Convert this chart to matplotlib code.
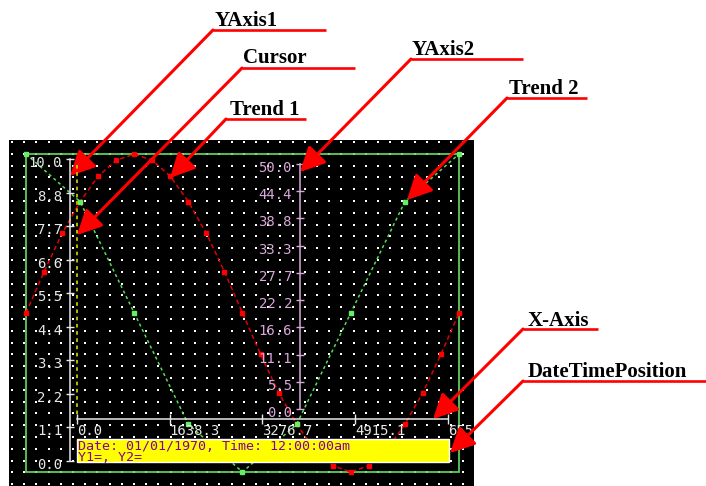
import matplotlib
matplotlib.use('Agg')
import matplotlib.pyplot as plt
import matplotlib.transforms as mtransforms
from matplotlib.patches import Rectangle, FancyArrowPatch
import numpy as np

W, H = 706, 486

# trend values, percent of the plot frame height
trend1_x = list(range(25))
trend1 = [50, 63, 75, 85, 93, 98, 100, 98, 93, 85, 75, 63, 50,
          37, 25, 15, 7, 2, 0, 2, 7, 15, 25, 37, 50]
trend2_x = [0, 3, 6, 9, 12, 15, 18, 21, 24]
trend2 = [100, 85, 50, 15, 0, 15, 50, 85, 100]

# axes
y1_ticks = [0.0, 1.11, 2.22, 3.33, 4.44, 5.56, 6.67, 7.78, 8.89, 10.0]
y1_labels = ['0.0', '1.1', '2.2', '3.3', '4.4', '5.5', '6.6', '7.7', '8.8', '10.0']
y2_ticks = [0.0, 5.56, 11.11, 16.67, 22.22, 27.78, 33.33, 38.89, 44.44, 50.0]
y2_labels = ['0.0', '5.5', '11.1', '16.6', '22.2', '27.7', '33.3', '38.8', '44.4', '50.0']
x_ticks = [0.0, 1638.3, 3276.7, 4915.1, 6553.5]
x_labels = ['0.0', '1638.3', '3276.7', '4915.1', '6553.5']
cursor_x = 0.0
date_text = 'Date: 01/01/1970, Time: 12:00:00am'
value_text = 'Y1=, Y2='

# callouts: label, text pos, underline (x0, x1, y), arrow tip  (pixels)
callouts = [
    ('YAxis1', (215, 26), (213, 326, 30), (70, 176)),
    ('Cursor', (243, 63), (242, 355, 68), (77, 235)),
    ('Trend 1', (230, 115), (226, 306, 119), (170, 178)),
    ('YAxis2', (412, 55), (411, 523, 59), (300, 172)),
    ('Trend 2', (509, 94), (507, 587, 98), (407, 200)),
    ('X-Axis', (528, 326), (523, 598, 329), (433, 419)),
    ('DateTimePosition', (528, 377), (523, 706, 381), (450, 453)),
]

MONO = 'DejaVu Sans Mono'
GREEN = '#66DD66'
LAVENDER = '#D8A8D8'
AXIS_WHITE = '#E8E8E8'


def frac(x0, y0, x1, y1):
    return [x0 / W, 1 - y1 / H, (x1 - x0) / W, (y1 - y0) / H]


def bare_axes(rect, z):
    a = fig.add_axes(rect)
    a.patch.set_alpha(0)
    for s in a.spines.values():
        s.set_visible(False)
    a.set_zorder(z)
    return a


fig = plt.figure(figsize=(W / 100, H / 100), dpi=100, facecolor='white')

# background panel
bg = fig.add_axes([0, 0, 1, 1])
bg.set_xlim(0, W)
bg.set_ylim(H, 0)
bg.axis('off')
bg.set_zorder(0)
bg.add_patch(Rectangle((9, 140), 465, 346, facecolor='black', edgecolor='none'))
gx, gy = np.meshgrid(np.arange(12, 474, 12.2), np.arange(142, 486, 11.8))
bg.scatter(gx.ravel(), gy.ravel(), s=1.0, c='white', marker='s', linewidths=0)
bg.add_patch(Rectangle((26, 154), 433, 318, fill=False, edgecolor=GREEN, lw=1.2))
panel_clip = mtransforms.TransformedBbox(mtransforms.Bbox.from_extents(9, 140, 474, 486), bg.transData)

# trends
ax = fig.add_axes(frac(26, 154, 459, 472))
ax.set_xlim(0, 24)
ax.set_ylim(0, 100)
ax.axis('off')
ax.set_zorder(1)
ax.plot(trend1_x, trend1, color='#E00000', ls=(0, (3, 2)), lw=1.1,
        marker='s', ms=3.5, mfc='#FF0000', mec='#FF0000', clip_on=False)
ax.plot(trend2_x, trend2, color='#55DD55', ls=(0, (2, 2)), lw=1.1,
        marker='s', ms=3.5, mfc='#66EE66', mec='#66EE66', clip_on=False)

# Y axis 1
a1 = bare_axes(frac(70, 159, 71, 461), 2)
a1.set_ylim(0, 10)
a1.set_xticks([])
a1.set_yticks(y1_ticks)
a1.spines['left'].set_visible(True)
a1.spines['left'].set_color(AXIS_WHITE)
a1.spines['left'].set_linewidth(1.1)
a1.tick_params(axis='y', direction='inout', length=6, width=1, color=AXIS_WHITE, labelleft=False)
for v, lab in zip(y1_ticks, y1_labels):
    a1.annotate(lab, xy=(0, v), xycoords=('axes fraction', 'data'), xytext=(-8, -4),
                textcoords='offset pixels', ha='right', va='center',
                color=AXIS_WHITE, family=MONO, fontsize=10)

# Y axis 2
a2 = bare_axes(frac(300, 164, 301, 409), 2)
a2.set_ylim(0, 50)
a2.set_xticks([])
a2.set_yticks(y2_ticks)
a2.spines['left'].set_visible(True)
a2.spines['left'].set_color(LAVENDER)
a2.spines['left'].set_linewidth(1.1)
a2.tick_params(axis='y', direction='inout', length=6, width=1, color=LAVENDER, labelleft=False)
for v, lab in zip(y2_ticks, y2_labels):
    a2.annotate(lab, xy=(0, v), xycoords=('axes fraction', 'data'), xytext=(-8, -4),
                textcoords='offset pixels', ha='right', va='center',
                color=LAVENDER, family=MONO, fontsize=10)

# X axis
ax_x = bare_axes(frac(77, 418, 448, 419), 2)
ax_x.set_xlim(0, 6553.5)
ax_x.set_yticks([])
ax_x.set_xticks(x_ticks)
ax_x.spines['bottom'].set_visible(True)
ax_x.spines['bottom'].set_color(AXIS_WHITE)
ax_x.spines['bottom'].set_linewidth(1.1)
ax_x.tick_params(axis='x', direction='inout', length=7, width=1, color=AXIS_WHITE, labelbottom=False)
for v, lab in zip(x_ticks, x_labels):
    t = ax_x.annotate(lab, xy=(v, 0), xycoords=('data', 'axes fraction'), xytext=(0, -12),
                      textcoords='offset pixels', ha='left', va='center',
                      color=AXIS_WHITE, family=MONO, fontsize=10)
    # the last label runs off the black panel and gets cut there
    t.set_clip_box(panel_clip)
    t.set_clip_on(True)

# foreground: cursor, date box, callouts
fg = fig.add_axes([0, 0, 1, 1])
fg.set_xlim(0, W)
fg.set_ylim(H, 0)
fg.axis('off')
fg.patch.set_alpha(0)
fg.set_zorder(3)

cur_tr = mtransforms.blended_transform_factory(ax_x.transData, fg.transData)
fg.plot([cursor_x, cursor_x], [165, 418], color='#C8C800', ls=(0, (2, 2)), lw=1.3, transform=cur_tr)

fg.add_patch(Rectangle((77, 439), 372, 23, facecolor='#FFFF00', edgecolor='white', lw=1))
fg.text(78, 451.5, date_text + '\n' + value_text, color='#8000A0', family=MONO,
        fontsize=9.6, va='center', linespacing=0.8)

for label, (tx, ty), (ux0, ux1, uy), tip in callouts:
    fg.text(tx, ty, label, fontsize=15, fontweight='bold', family='Liberation Serif',
            va='baseline', ha='left', color='black')
    fg.plot([ux0, ux1], [uy, uy], color='red', lw=1.9, solid_capstyle='butt')
    fg.add_patch(FancyArrowPatch((ux0, uy), tip,
                                 arrowstyle='-|>,head_length=15,head_width=7.5',
                                 mutation_scale=1, lw=2.2, color='red',
                                 shrinkA=0, shrinkB=0))

fig.savefig('out.png', dpi=100, facecolor='white')
